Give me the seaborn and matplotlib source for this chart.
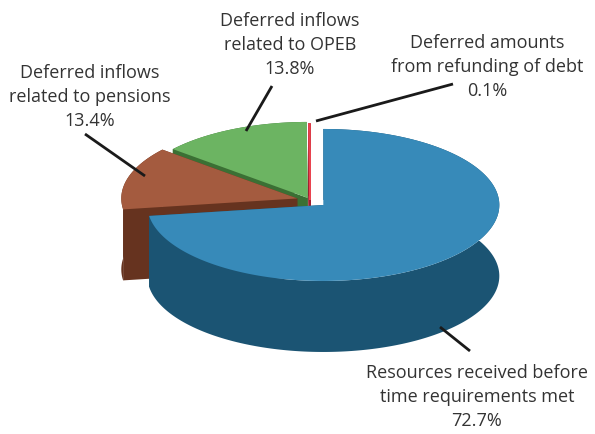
import numpy as np
import pandas as pd
import seaborn as sns
import matplotlib.pyplot as plt
from matplotlib.patches import Polygon

# Slice data (clockwise from 12 o'clock)
labels = ["Resources received before\ntime requirements met",
          "Deferred inflows\nrelated to pensions",
          "Deferred inflows\nrelated to OPEB",
          "Deferred amounts\nfrom refunding of debt"]
shares = [72.7, 13.4, 13.8, 0.1]
top_colors = ["#378ab9", "#a45b3f", "#6cb462", "#e9434f"]
side_colors = ["#1b5473", "#66331f", "#3b7034", "#a01e2e"]

df = pd.DataFrame({"label": labels, "share": shares,
                   "top": top_colors, "side": side_colors})

# Layout of the 3D pie (pixels)
cx, cy = 310, 201
a, b = 176, 76
depth = 71
explode = [0.10, 0.075, 0.03, 0.0]

# label placement (pixels) and leader lines
text_xy = [(477, 397), (90, 97), (290, 45), (487, 67)]
line_out = [(470, 352), (85, 135), (272, 87), (453, 85)]
line_in = [(440, 328), (145, 177), (246, 132), (316, 122)]

sns.set_theme(style="white")
plt.rcParams['font.family'] = ['Open Sans', 'DejaVu Sans']

fig = plt.figure(figsize=(5.95, 4.35), dpi=100)
ax = fig.add_axes([0, 0, 1, 1])
ax.set_xlim(0, 595)
ax.set_ylim(435, 0)
ax.axis('off')


def pt(x0, y0, theta, r=1.0, dz=0.0):
    t = np.radians(theta)
    return (x0 + a * r * np.cos(t), y0 - b * r * np.sin(t) + dz)


ends = 90 - np.cumsum([0] + shares[:-1]) * 3.6
starts = ends - np.array(shares) * 3.6

z = 1
for i in reversed(range(len(df))):
    t0, t1 = starts[i], ends[i]
    mid = (t0 + t1) / 2
    e = explode[i]
    x0 = cx + e * a * np.cos(np.radians(mid))
    y0 = cy - e * b * np.sin(np.radians(mid))
    th = np.linspace(t0, t1, max(4, int(abs(t1 - t0) * 2)))
    top_arc = [pt(x0, y0, t) for t in th]
    bot_arc = [pt(x0, y0, t, dz=depth) for t in th]
    side = df.loc[i, "side"]
    lw = 1.2 if shares[i] < 1 else 0
    # radial faces
    for t in (t0, t1):
        p = pt(x0, y0, t)
        face = [(x0, y0), p, (p[0], p[1] + depth), (x0, y0 + depth)]
        ax.add_patch(Polygon(face, closed=True, facecolor=side,
                             edgecolor=side, lw=lw, zorder=z))
    # outer wall
    ax.add_patch(Polygon(top_arc + bot_arc[::-1], closed=True,
                         facecolor=side, edgecolor=side, lw=lw, zorder=z))
    z += 1
    # top face
    ax.add_patch(Polygon([(x0, y0)] + top_arc, closed=True,
                         facecolor=df.loc[i, "top"],
                         edgecolor=df.loc[i, "top"], lw=lw, zorder=z))
    z += 1

for i in range(len(df)):
    ax.plot([line_out[i][0], line_in[i][0]], [line_out[i][1], line_in[i][1]],
            color="#1a1a1a", lw=2, zorder=20, solid_capstyle='butt')
    ax.text(text_xy[i][0], text_xy[i][1],
            f"{df.loc[i, 'label']}\n{df.loc[i, 'share']:.1f}%",
            ha='center', va='center', fontsize=13, color="#333333",
            linespacing=1.42, zorder=21)

fig.savefig("out.png", dpi=100, facecolor="white")
